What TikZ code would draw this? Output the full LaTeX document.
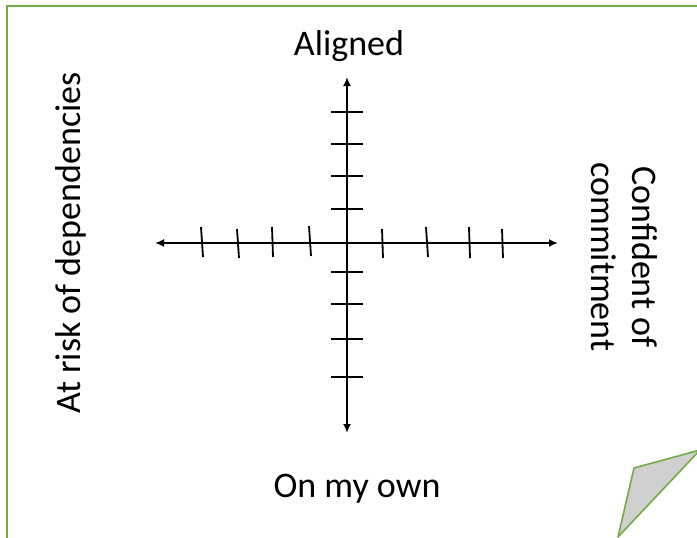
\documentclass[tikz,border=0pt]{standalone}
\usepackage{fontspec}
\setmainfont{Carlito}
\usetikzlibrary{arrows.meta}
\definecolor{framegreen}{RGB}{112,173,71}
\definecolor{foldgray}{RGB}{208,208,208}
\tikzset{
  frame/.style={draw=framegreen,line width=2pt},
  fold/.style={draw=framegreen,fill=foldgray,line width=1.6pt,line join=round},
  axisarr/.style={{Latex[length=9pt,width=8pt]}-{Latex[length=9pt,width=8pt]},line width=1.8pt},
  tickmark/.style={line width=1.8pt},
  axlabel/.style={inner sep=0pt,font=\fontsize{36}{41}\selectfont}
}

\begin{document}
\begin{tikzpicture}[x=1pt,y=-1pt]
  \useasboundingbox (0,0) rectangle (697,538);
  \begin{scope}
    \clip (0,0) rectangle (697,538);
    \draw[frame] (7,6) rectangle (720,560);
    \draw[fold] (634,468) -- (700,450) -- (618,537) -- cycle;
  \end{scope}

  \coordinate (west) at (155,243);
  \coordinate (east) at (558,243);
  \coordinate (north) at (347,77);
  \coordinate (south) at (347,433);
  \draw[axisarr] (west) -- (east);
  \draw[axisarr] (south) -- (north);

  \foreach \xa/\xb/\ya/\yb in {201/203/227/257,237/239/229/258,272/273/227/257,309/311/226/256,
                              382/383/229/258,426/428/227/257,469/470/227/258,502/503/229/258}
    \draw[tickmark] (\xa,\ya) -- (\xb,\yb);
  \foreach \yt in {112,144,176,209,272,304,339,377}
    \draw[tickmark] (331,\yt) -- (363,\yt);

  \node[axlabel,anchor=base] (aligned) at (349,55) {Aligned};
  \node[axlabel,anchor=base] (ownway) at (357,497) {On my own};
  \node[axlabel,anchor=base,rotate=90] (risk) at (80,243) {At risk of dependencies};
  \node[axlabel,align=center,rotate=-90] (confident) at (624,257) {Confident of\\commitment};
\end{tikzpicture}
\end{document}
